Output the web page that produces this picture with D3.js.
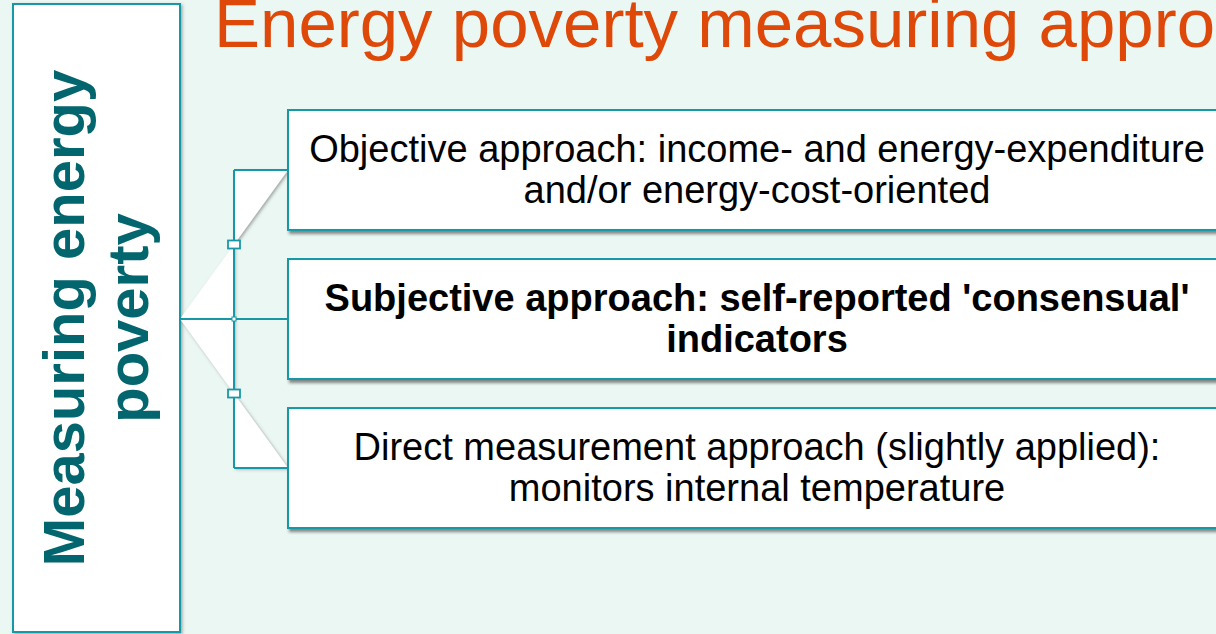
<!DOCTYPE html>
<html>
<head>
<meta charset="utf-8">
<script src="https://cdn.jsdelivr.net/npm/d3@7"></script>
<style>
  html, body { margin: 0; padding: 0; overflow: hidden; background: #ebf7f3; }
  svg { display: block; font-family: "Liberation Sans", Arial, sans-serif; }
</style>
</head>
<body>
<svg id="chart" width="1216" height="634"></svg>
<script>
'use strict';

/* global d3, document */
var titleText = 'Energy poverty measuring approaches';
var rootLines = ['Measuring energy', 'poverty'];
var branchKeys = ['objective', 'subjective', 'direct'];
var branchLines = [
    ['Objective approach: income- and energy-expenditure', 'and/or energy-cost-oriented'],
    ['Subjective approach: self-reported \'consensual\'', 'indicators'],
    ['Direct measurement approach (slightly applied):', 'monitors internal temperature']
];
var branchBold = [false, true, false];

var diagram = {
    svg: d3.select('#chart'),
    teal: '#1898a6',
    darkTeal: '#03666e',
    orange: '#de4808',

    root: { x: 13, y: 4, w: 167, h: 628 },
    boxLeft: 288,
    boxRight: 1226,
    bracketX: 234,

    init: function () {
        this.y = d3.scaleBand()
            .domain(branchKeys)
            .range([110, 528])
            .paddingInner(0.195)
            .paddingOuter(0);
        this.addFilters();
        this.drawTitle();
        this.drawRoot();
        this.drawConnectors();
        this.drawBranches();
    },

    mid: function (key) {
        return this.y(key) + this.y.bandwidth() / 2;
    },

    addFilters: function () {
        var defs = this.svg.append('defs');
        defs.append('filter')
            .attr('id', 'shadow')
            .attr('x', '-5%').attr('y', '-5%')
            .attr('width', '115%').attr('height', '120%')
            .append('feDropShadow')
            .attr('dx', 2).attr('dy', 3)
            .attr('stdDeviation', 1.4)
            .attr('flood-color', '#2a2a2a')
            .attr('flood-opacity', 0.55);
        defs.append('filter')
            .attr('id', 'softShadow')
            .attr('x', '-20%').attr('y', '-20%')
            .attr('width', '140%').attr('height', '140%')
            .append('feDropShadow')
            .attr('dx', 1.5).attr('dy', 1.5)
            .attr('stdDeviation', 1.5)
            .attr('flood-color', '#555')
            .attr('flood-opacity', 0.5);
    },

    drawTitle: function () {
        this.svg.append('text')
            .attr('x', 214)
            .attr('y', 47)
            .attr('font-size', 69)
            .attr('fill', this.orange)
            .text(titleText);
    },

    drawRoot: function () {
        var r = this.root;
        this.svg.append('rect')
            .attr('x', r.x).attr('y', r.y)
            .attr('width', r.w).attr('height', r.h)
            .attr('fill', '#fff')
            .attr('stroke', this.teal)
            .attr('stroke-width', 2)
            .attr('filter', 'url(#softShadow)');

        var cx = r.x + r.w / 2;
        var cy = 318;
        this.svg.append('g')
            .attr('transform', 'translate(' + cx + ',' + cy + ') rotate(-90)')
            .selectAll('text')
            .data(rootLines)
            .join('text')
            .attr('x', 0)
            .attr('y', function (d, i) { return -13 + i * 64; })
            .attr('text-anchor', 'middle')
            .attr('font-size', 58)
            .attr('font-weight', 'bold')
            .attr('fill', this.darkTeal)
            .text(function (d) { return d; });
    },

    drawConnectors: function () {
        var self = this;
        var ax = this.root.x + this.root.w;
        var bx = this.bracketX;
        var ex = this.boxLeft;
        var c1 = this.mid(branchKeys[0]);
        var c2 = this.mid(branchKeys[1]);
        var c3 = this.mid(branchKeys[2]);
        var line = d3.line();

        // white folds between the root anchor and the outer boxes
        this.svg.selectAll('path.fold')
            .data([[c2, c1], [c2, c3]])
            .join('path')
            .attr('class', 'fold')
            .attr('d', function (d) {
                return line([[ax, d[0]], [bx, d[0]], [bx, d[1]], [ex, d[1]]]) + 'Z';
            })
            .attr('fill', '#fff')
            .attr('filter', 'url(#softShadow)');

        var p = d3.path();
        p.moveTo(bx, c1); p.lineTo(ex, c1);
        p.moveTo(bx, c1); p.lineTo(bx, c3);
        p.moveTo(bx, c3); p.lineTo(ex, c3);
        p.moveTo(ax, c2); p.lineTo(ex, c2);
        this.svg.append('path')
            .attr('d', p.toString())
            .attr('fill', 'none')
            .attr('stroke', this.teal)
            .attr('stroke-width', 2);

        this.svg.selectAll('rect.knob')
            .data([(c1 + c2) / 2, (c2 + c3) / 2])
            .join('rect')
            .attr('class', 'knob')
            .attr('x', bx - 6).attr('y', function (d) { return d - 4; })
            .attr('width', 12).attr('height', 8)
            .attr('fill', '#fff')
            .attr('stroke', self.teal)
            .attr('stroke-width', 1.8);

        this.svg.append('rect')
            .attr('x', bx - 2).attr('y', c2 - 2)
            .attr('width', 4).attr('height', 4)
            .attr('fill', '#fff')
            .attr('stroke', this.teal)
            .attr('stroke-width', 1);
    },

    drawBranches: function () {
        var self = this;
        var cx = (this.boxLeft + this.boxRight) / 2;
        var g = this.svg.selectAll('g.branch')
            .data(branchKeys)
            .join('g')
            .attr('class', 'branch');

        g.append('rect')
            .attr('x', this.boxLeft)
            .attr('y', function (d) { return self.y(d); })
            .attr('width', this.boxRight - this.boxLeft)
            .attr('height', this.y.bandwidth())
            .attr('fill', '#fff')
            .attr('stroke', this.teal)
            .attr('stroke-width', 2)
            .attr('filter', 'url(#shadow)');

        g.each(function (d, i) {
            var mid = self.mid(d);
            d3.select(this).selectAll('text')
                .data(branchLines[i])
                .join('text')
                .attr('x', cx)
                .attr('y', function (t, j) { return mid - 8 + j * 41; })
                .attr('text-anchor', 'middle')
                .attr('font-size', 38)
                .attr('font-weight', branchBold[i] ? 'bold' : 'normal')
                .attr('fill', '#000')
                .text(function (t) { return t; });
        });
    }
};

diagram.init();
</script>
</body>
</html>
